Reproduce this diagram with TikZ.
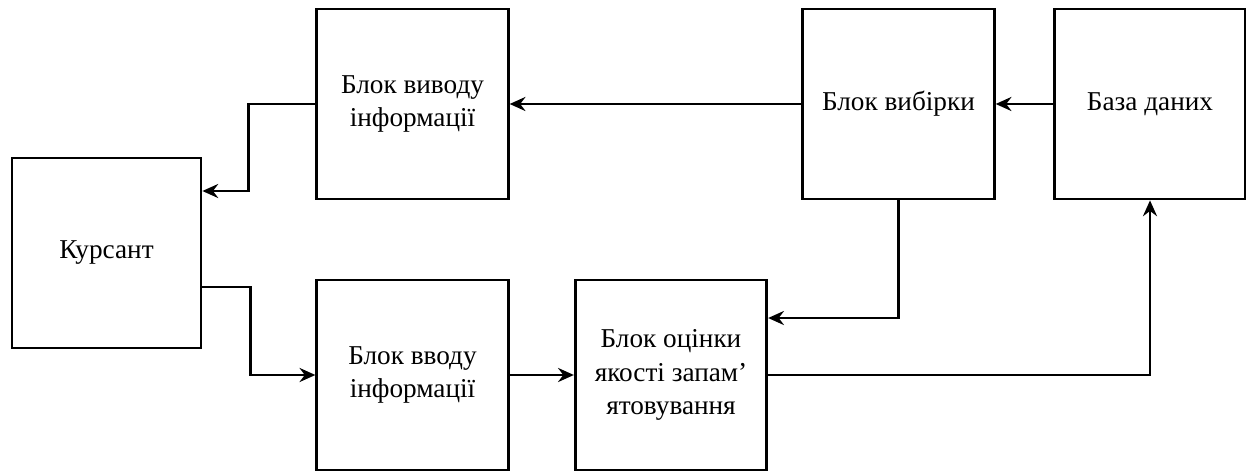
\documentclass[tikz,border=0pt]{standalone}
\usepackage{fontspec}
\setmainfont{Liberation Serif}
\newfontfamily\blockfont{Liberation Serif}
\usetikzlibrary{positioning}
\usetikzlibrary{arrows.meta}
\def\myblockw{3.83cm}
\def\myblockh{3.8cm}
\tikzset{
>={Stealth[length=9pt,width=8pt,inset=3pt]},
my node/.style={font=\blockfont\fontsize{15.5}{19}\selectfont,align=center,inner sep=1mm},
my block/.style={draw,my node,rectangle,minimum width=\myblockw,minimum height=\myblockh},
conn/.style={->,line join=miter},
scheme/.style={x=0.02cm,y=-0.02cm,line width=1.6pt}
}
\begin{document}
\begin{tikzpicture}[scheme]
\useasboundingbox (0,0) rectangle (1246,472);
% top row
\node[my block] (vyvid)   at (412.5,104) {Блок виводу\\інформації};
\node[my block] (vybirka) at (898.5,104) {Блок вибірки};
\node[my block] (baza)    at (1150,104)  {База даних};
% left
\node[my block,minimum width=3.78cm] (kursant) at (106.5,253) {Курсант};
% bottom row
\node[my block] (vvid)    at (412.5,375) {Блок вводу\\інформації};
\node[my block] (otsinka) at (671,375)   {Блок оцінки\\якості запам’\\ятовування};

\draw[conn] (vyvid.west) -- ++(-67,0) |- ([yshift=1.24cm]kursant.east);
\draw[conn] ([yshift=-0.68cm]kursant.east) -- ++(48,0) |- (vvid.west);
\draw[conn] (vvid) -- (otsinka);
\draw[conn] (otsinka.east) -| (baza.south);
\draw[conn] (vybirka.south) |- ([yshift=1.14cm]otsinka.east);
\draw[conn] (vybirka) -- (vyvid);
\draw[conn] (baza) -- (vybirka);
\end{tikzpicture}
\end{document}
